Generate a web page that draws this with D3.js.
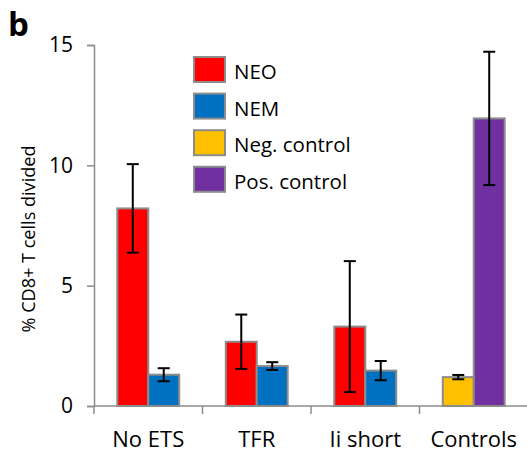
<!DOCTYPE html>
<html>
<head>
<meta charset="utf-8">
<script src="https://cdn.jsdelivr.net/npm/d3@7"></script>
<style>
  body { margin: 0; background: #fff; }
  text { font-family: "Open Sans", sans-serif; fill: #000; }
</style>
</head>
<body>
<svg id="chart" width="527" height="454"></svg>
<script>
// groups on the x axis
const groups = ['No ETS', 'TFR', 'Ii short', 'Controls'];
// series names and colours
const seriesNames = ['NEO', 'NEM', 'Neg. control', 'Pos. control'];
const seriesColors = ['#ff0000', '#0070c0', '#ffc000', '#7030a0'];
// bars: group, series, mean, error
const barGroup = ['No ETS', 'No ETS', 'TFR', 'TFR', 'Ii short', 'Ii short', 'Controls', 'Controls'];
const barSeries = ['NEO', 'NEM', 'NEO', 'NEM', 'NEO', 'NEM', 'Neg. control', 'Pos. control'];
const barValue = [8.21, 1.30, 2.67, 1.66, 3.30, 1.47, 1.20, 11.95];
const barError = [1.84, 0.27, 1.13, 0.16, 2.72, 0.40, 0.09, 2.77];
const yTicks = [0, 5, 10, 15];

const svg = d3.select('#chart');
const mLeft = 94, mRight = 528, mTop = 45, mBottom = 406;

const x = d3.scaleBand().domain(groups).range([mLeft, mRight]);
const inner = d3.scaleBand().domain([0, 1]).range([23.3, x.bandwidth() - 23.3]);
const y = d3.scaleLinear().domain([0, 15]).range([mBottom, mTop]);
const color = d3.scaleOrdinal().domain(seriesNames).range(seriesColors);

const bars = barValue.map((v, i) => ({
    group: barGroup[i],
    series: barSeries[i],
    value: v,
    err: barError[i],
    slot: i % 2
}));

// y axis
const yAxis = svg.append('g')
    .attr('transform', `translate(${mLeft},0)`)
    .call(d3.axisLeft(y).tickValues(yTicks).tickSize(7).tickPadding(14));
yAxis.select('.domain').attr('stroke', '#8c8c8c').attr('stroke-width', 1.5);
yAxis.selectAll('.tick line').attr('stroke', '#8c8c8c').attr('stroke-width', 1.5);
yAxis.selectAll('.tick text').attr('font-size', 21).attr('font-family', '"Open Sans", sans-serif').attr('fill', '#000');

// x axis, ticks at band edges
const xAxis = svg.append('g').attr('transform', `translate(0,${mBottom})`);
xAxis.append('line')
    .attr('x1', mLeft).attr('x2', mRight)
    .attr('stroke', '#8c8c8c').attr('stroke-width', 1.5);
xAxis.selectAll('.edge')
    .data(groups)
    .enter()
    .append('line')
    .attr('x1', d => x(d)).attr('x2', d => x(d))
    .attr('y1', 0).attr('y2', 8)
    .attr('stroke', '#8c8c8c').attr('stroke-width', 1.5);
xAxis.selectAll('.lab')
    .data(groups)
    .enter()
    .append('text')
    .attr('x', d => x(d) + x.bandwidth() / 2)
    .attr('y', 41)
    .attr('text-anchor', 'middle')
    .attr('font-size', 22)
    .text(d => d);

// bars
svg.selectAll('.bar')
    .data(bars)
    .enter()
    .append('rect')
    .attr('class', 'bar')
    .attr('x', d => x(d.group) + inner(d.slot))
    .attr('width', inner.bandwidth())
    .attr('y', d => y(d.value))
    .attr('height', d => y(0) - y(d.value))
    .attr('fill', d => color(d.series))
    .attr('stroke', '#8c8c8c')
    .attr('stroke-width', 2);

// error bars
const eb = svg.selectAll('.err')
    .data(bars)
    .enter()
    .append('g')
    .attr('transform', d => `translate(${x(d.group) + inner(d.slot) + inner.bandwidth() / 2},0)`)
    .attr('stroke', '#000')
    .attr('stroke-width', 2);
eb.append('line')
    .attr('y1', d => y(d.value + d.err))
    .attr('y2', d => y(d.value - d.err));
eb.append('line')
    .attr('x1', -6).attr('x2', 6)
    .attr('y1', d => y(d.value + d.err))
    .attr('y2', d => y(d.value + d.err));
eb.append('line')
    .attr('x1', -6).attr('x2', 6)
    .attr('y1', d => y(d.value - d.err))
    .attr('y2', d => y(d.value - d.err));

// y label
svg.append('text')
    .attr('transform', 'translate(35,239) rotate(-90)')
    .attr('text-anchor', 'middle')
    .attr('font-size', 19)
    .attr('textLength', 187)
    .attr('lengthAdjust', 'spacingAndGlyphs')
    .text('% CD8+ T cells divided');

// panel letter
svg.append('text')
    .attr('x', 8).attr('y', 36)
    .attr('font-size', 33)
    .attr('font-weight', 'bold')
    .text('b');

// legend
const legend = svg.selectAll('.leg')
    .data(seriesNames)
    .enter()
    .append('g')
    .attr('transform', (d, i) => `translate(194,${57 + i * 36.6})`);
legend.append('rect')
    .attr('width', 31).attr('height', 25)
    .attr('fill', d => color(d))
    .attr('stroke', '#8c8c8c')
    .attr('stroke-width', 2);
legend.append('text')
    .attr('x', 40).attr('y', 22)
    .attr('font-size', 20.5)
    .text(d => d);
</script>
</body>
</html>
